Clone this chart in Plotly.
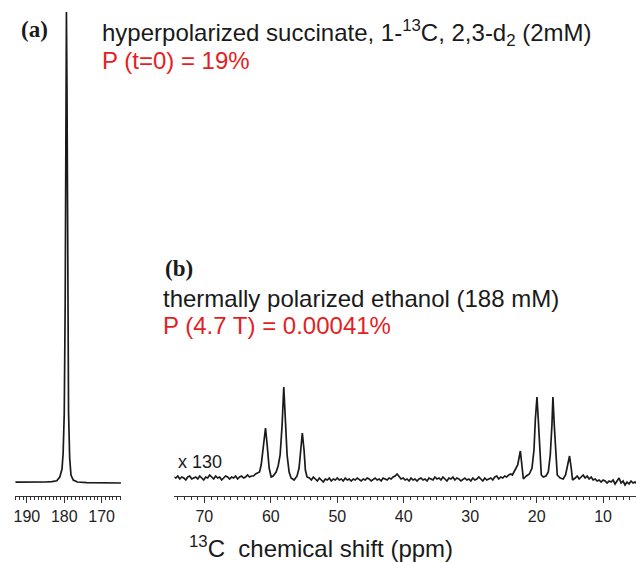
import plotly.graph_objects as go

# (a) hyperpolarized succinate, 1-13C: chemical shift (ppm) and signal height
succinate_ppm = [193.1, 190.0, 187.0, 185.0, 183.3, 182.0, 181.2, 180.6, 180.3,
                 180.0, 179.75, 179.55, 179.42, 179.28, 179.1, 178.85, 178.55,
                 178.2, 177.6, 176.5, 174.0, 170.0, 164.8]
succinate_int = [0.8, 0.6, 0.8, 1.0, 1.3, 2.2, 6, 14, 30,
                 70, 180, 400, 471, 400, 180, 70, 25,
                 8, 3, 1, 0.3, 0, 0]

# (b) thermally polarized ethanol (x 130): (ppm, signal height) samples
ethanol_spectrum = [
    (74.6, 1), (74.3, 0), (74.0, 2), (73.7, -1), (73.4, 1), (73.1, 0), (72.8, -2),
    (72.5, 1), (72.2, 2), (71.9, -1), (71.6, 0), (71.3, 1), (71.0, -1), (70.7, 2),
    (70.4, 0), (70.1, -2), (69.8, 1), (69.5, 0), (69.2, 3), (68.9, 1), (68.6, -1),
    (68.3, 2), (68.0, 0), (67.7, 1), (67.4, -2), (67.1, 0), (66.8, 2), (66.5, 1),
    (66.2, -1), (65.9, 1), (65.6, 0), (65.3, 2), (65.0, -1), (64.7, 1), (64.4, 2),
    (64.1, 0), (63.8, 1), (63.5, 3), (63.2, 1), (62.9, 2), (62.6, 2), (62.3, 4),
    (62.0, 5),
    # CH2 multiplet
    (61.7, 6), (61.45, 13), (61.15, 33), (60.8, 50), (60.55, 33), (60.25, 10),
    (59.95, 1), (59.65, 2), (59.2, 6), (58.9, 12), (58.6, 23), (58.3, 53),
    (58.05, 91), (57.8, 58), (57.55, 23), (57.25, 6), (56.95, 0), (56.5, -2),
    (56.05, 2), (55.75, 10), (55.5, 26), (55.26, 45), (55.0, 28), (54.8, 8),
    (54.55, 1),
    (54.2, 0), (53.9, -2), (53.6, 1), (53.3, -1), (53.0, -3), (52.7, 0), (52.4, -2),
    (52.1, -4), (51.8, -1), (51.5, -2), (51.2, 0), (50.9, -3), (50.6, -1), (50.3, -2),
    (50.0, 0), (49.7, -2), (49.4, -1), (49.1, -3), (48.8, 0), (48.5, -2), (48.2, -1),
    (47.9, -3), (47.6, -1), (47.3, -2), (47.0, 0), (46.7, -2), (46.4, -3), (46.1, -1),
    (45.8, -2), (45.5, 0), (45.2, -1), (44.9, -3), (44.6, -1), (44.3, 0), (44.0, -2),
    (43.7, -1), (43.4, -3), (43.1, 0), (42.8, -1), (42.5, -2), (42.2, 0), (41.9, -1),
    (41.6, 1), (41.3, 2), (41.0, 4), (40.7, 2), (40.4, -1), (40.1, 0), (39.8, -2),
    (39.5, -1), (39.2, -3), (38.9, 0), (38.6, -2), (38.3, -1), (38.0, -3), (37.7, -1),
    (37.4, 0), (37.1, -2), (36.8, -1), (36.5, -3), (36.2, 0), (35.9, -1), (35.6, -2),
    (35.3, 1), (35.0, -1), (34.7, 0), (34.4, -2), (34.1, 1), (33.8, -1), (33.5, -3),
    (33.2, 0), (32.9, -1), (32.6, 1), (32.3, -2), (32.0, 0), (31.7, -1), (31.4, -3),
    (31.1, -1), (30.8, 0), (30.5, -2), (30.2, -1), (29.9, -3), (29.6, 0), (29.3, -2),
    (29.0, -1), (28.7, 1), (28.4, -1), (28.1, -3), (27.8, 0), (27.5, -2), (27.2, -1),
    (26.9, 0), (26.6, -2), (26.3, 1), (26.0, 2), (25.7, -1), (25.4, 1), (25.1, 0),
    (24.8, 2), (24.5, 1), (24.2, 3), (23.9, 4),
    # CH3 multiplet
    (23.65, 3), (23.2, 8), (22.85, 13), (22.45, 27), (22.2, 13), (22.0, -1),
    (21.55, 2), (21.1, 4), (20.7, 10), (20.4, 28), (20.2, 58), (19.95, 81),
    (19.75, 58), (19.5, 18), (19.3, 3), (19.0, 1), (18.6, 2), (18.25, 6),
    (17.95, 23), (17.7, 53), (17.55, 81), (17.35, 53), (17.1, 18), (16.9, 3),
    (16.45, 0), (16.0, -1), (15.65, 3), (15.35, 13), (15.05, 22), (14.8, 10),
    (14.6, -2), (14.2, 0),
    (13.9, 2), (13.6, -1), (13.3, 1), (13.0, 3), (12.7, 0), (12.4, 2), (12.1, -1),
    (11.8, 1), (11.5, -2), (11.2, -1), (10.9, -3), (10.6, -2), (10.3, -4), (10.0, -2),
    (9.7, -3), (9.4, -5), (9.1, -3), (8.8, -4), (8.5, -2), (8.2, -6), (7.9, -3),
    (7.6, 0), (7.3, -5), (7.0, -3), (6.7, -7), (6.4, -4), (6.1, -6), (5.8, -3),
    (5.5, -5), (5.2, -4), (4.9, -6),
]
ethanol_ppm = [p for p, _ in ethanol_spectrum]
ethanol_int = [v for _, v in ethanol_spectrum]

major_ticks_a = [190, 180, 170]
major_ticks_b = [70, 60, 50, 40, 30, 20, 10]

W, H = 636, 562
PLOT_H = 496          # height of the plotting area in px (axis line at the bottom)
SANS = "Liberation Sans, Arial, Helvetica, sans-serif"
SERIF = "Liberation Serif, Times New Roman, serif"
INK = "#1a1a1a"
RED = "#e31e24"

fig = go.Figure()
fig.add_trace(go.Scatter(x=succinate_ppm, y=succinate_int, mode="lines",
                         line=dict(color=INK, width=1.7), xaxis="x", yaxis="y",
                         showlegend=False, hoverinfo="skip"))
fig.add_trace(go.Scatter(x=ethanol_ppm, y=ethanol_int, mode="lines",
                         line=dict(color=INK, width=1.7), xaxis="x2", yaxis="y2",
                         showlegend=False, hoverinfo="skip"))

axis_common = dict(showline=True, linecolor="#333", linewidth=1,
                   ticks="outside", ticklen=6, tickwidth=1, tickcolor="#333",
                   showgrid=False, zeroline=False,
                   tickfont=dict(family=SANS, size=16, color="#222"),
                   minor=dict(ticks="outside", ticklen=3, tickwidth=1,
                              tickcolor="#333", dtick=1, showgrid=False))

fig.update_layout(
    width=W, height=H,
    margin=dict(l=0, r=0, t=0, b=H - PLOT_H),
    paper_bgcolor="white", plot_bgcolor="white",
    xaxis=dict(domain=[13.3 / W, 119.3 / W], range=[193.1, 164.85],
               tickvals=major_ticks_a, anchor="y", **axis_common),
    yaxis=dict(domain=[0, 1], range=[-13, 483], visible=False),
    xaxis2=dict(domain=[173 / W, 1.0], range=[74.5, 5.05],
                tickvals=major_ticks_b, anchor="y2", **axis_common),
    yaxis2=dict(domain=[0, 1], range=[-18, 478], visible=False, anchor="x2"),
)


def py(pixel_y):
    """Paper y coordinate for a pixel row of the page."""
    return (PLOT_H - pixel_y) / PLOT_H


def label(text, x_px, y_px, size, color=INK, family=SANS, xanchor="left"):
    fig.add_annotation(text=text, xref="paper", yref="paper",
                       x=x_px / W, y=py(y_px), xanchor=xanchor, yanchor="middle",
                       showarrow=False, font=dict(family=family, size=size, color=color))


label("<b>(a)</b>", 17, 30, 23, family=SERIF)
label("hyperpolarized succinate, 1-<sup>13</sup>C, 2,3-d<sub>2</sub> (2mM)", 98, 33, 24)
label("P (t=0) = 19%", 98, 60, 24, color=RED)
label("<b>(b)</b>", 162, 268, 23, family=SERIF)
label("thermally polarized ethanol (188 mM)", 160, 298, 24)
label("P (4.7 T) = 0.00041%", 160, 325, 24, color=RED)
label("x 130", 175, 462, 18)
label("<sup>13</sup>C  chemical shift (ppm)", 320, 547, 24, xanchor="center")

fig.write_html("out.html")
